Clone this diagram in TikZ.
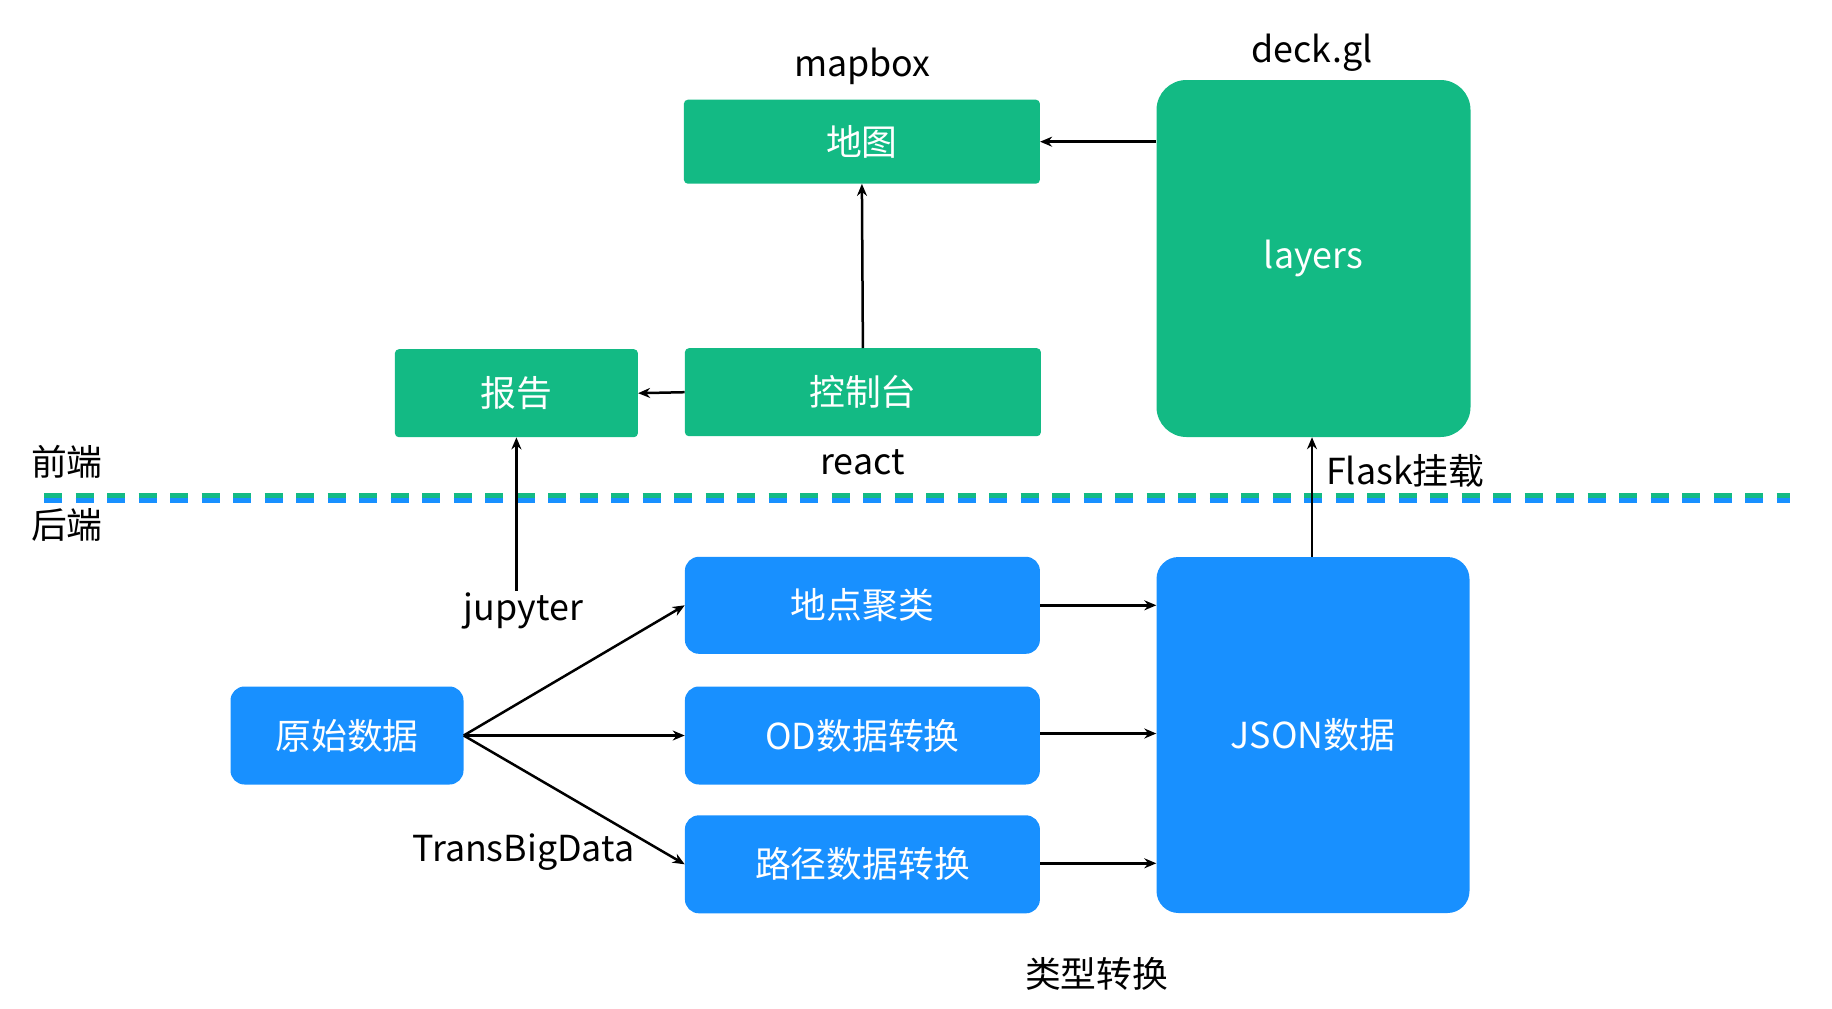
\documentclass[tikz,border=0pt]{standalone}
\usepackage{fontspec}
\setmainfont{Noto Sans CJK SC}
\usetikzlibrary{arrows.meta}
\definecolor{gfill}{RGB}{19,186,132}
\definecolor{bfill}{RGB}{24,144,255}
\tikzset{
  base/.style={inner sep=0pt, font=\fontsize{35.8}{43}\selectfont},
  gbox/.style={base, fill=gfill, text=white, rounded corners=4pt},
  bbox/.style={base, fill=bfill, text=white, rounded corners=14pt},
  lbl/.style={base, text=black},
  arr/.style={line width=2.5pt, -{Stealth[length=12pt,width=10pt]}},
}
\begin{document}
\begin{tikzpicture}[x=1pt,y=-1pt]
\useasboundingbox (0,0) rectangle (1832,1009);
% dashed separator
\draw[gfill, line width=5pt, dash pattern=on 18pt off 13.5pt] (44,495) -- (1790,495);
\draw[bfill, line width=5pt, dash pattern=on 18pt off 13.5pt] (44,500) -- (1790,500);
% front-end nodes
\node[gbox, minimum width=356pt, minimum height=84pt] (map) at (861.9,141.7) {地图};
\node[gbox, rounded corners=30pt, minimum width=314pt, minimum height=357pt] (layers) at (1313.5,258.5) {layers};
\node[gbox, minimum width=243pt, minimum height=88pt] (report) at (516.4,393.2) {报告};
\node[gbox, minimum width=356pt, minimum height=88pt] (console) at (862.9,392.2) {控制台};
% back-end nodes
\node[bbox, minimum width=355pt, minimum height=97pt] (cluster) at (862.4,605.3) {地点聚类};
\node[bbox, minimum width=233pt, minimum height=98pt] (raw) at (347,735.5) {原始数据};
\node[bbox, minimum width=355pt, minimum height=98pt] (od) at (862.4,735.5) {OD数据转换};
\node[bbox, minimum width=355pt, minimum height=98pt] (path) at (862.4,864.3) {路径数据转换};
\node[bbox, rounded corners=22pt, minimum width=313pt, minimum height=356pt] (json) at (1313,735) {JSON数据};
% labels
\node[lbl] (lmapbox) at (862.4,65.9) {mapbox};
\node[lbl] (ldeck) at (1312,52.9) {deck.gl};
\node[lbl] (lreact) at (862.4,462) {react};
\node[lbl] (lfront) at (66.8,462) {前端};
\node[lbl] (lback) at (66.8,525) {后端};
\node[lbl, anchor=west] (lflask) at (1326,471) {Flask挂载};
\node[lbl] (ljup) at (523.4,610.8) {jupyter};
\node[lbl] (ltbd) at (523.4,852.3) {TransBigData};
\node[lbl] (ltype) at (1096.7,974) {类型转换};
\coordinate (jstart) at (516.4,590.8);
\coordinate (fx) at (1312,0);
% connectors
\draw[arr] (layers.west |- map.east) -- (map.east);
\draw[arr] (console.north) -- (map.south);
\draw[arr] (console.west) -- (report.east);
\draw[arr] (jstart) -- (report.south);
\draw[arr] (json.north -| fx) -- (layers.south -| fx);
\draw[arr] (raw.east) -- (cluster.west);
\draw[arr] (raw.east) -- (od.west);
\draw[arr] (raw.east) -- (path.west);
\draw[arr] (cluster.east) -- (cluster.east -| json.west);
\draw[arr] ([yshift=2pt]od.east) -- ([yshift=2pt]od.east -| json.west);
\draw[arr] ([yshift=1pt]path.east) -- ([yshift=1pt]path.east -| json.west);
\end{tikzpicture}
\end{document}
